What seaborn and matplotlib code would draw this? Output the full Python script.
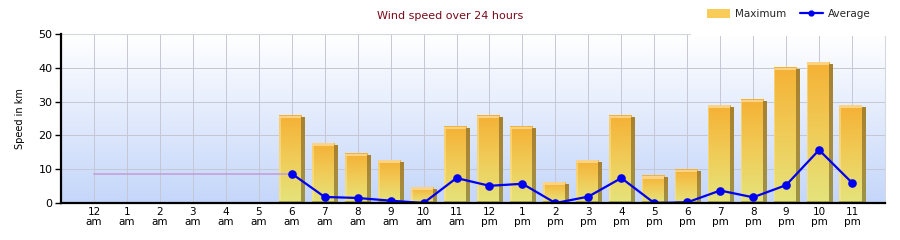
import numpy as np
import pandas as pd
import matplotlib
matplotlib.use("Agg")
import matplotlib.pyplot as plt
import seaborn as sns
from matplotlib.patches import Rectangle, Patch
from matplotlib.lines import Line2D
from matplotlib.colors import LinearSegmentedColormap

# ---- data ----
hours = ["12\nam", "1\nam", "2\nam", "3\nam", "4\nam", "5\nam", "6\nam", "7\nam",
         "8\nam", "9\nam", "10\nam", "11\nam", "12\npm", "1\npm", "2\npm", "3\npm",
         "4\npm", "5\npm", "6\npm", "7\npm", "8\npm", "9\npm", "10\npm", "11\npm"]
maximum = [np.nan, np.nan, np.nan, np.nan, np.nan, np.nan,
           25.8, 17.7, 14.6, 12.7, 4.6, 22.6, 25.8, 22.6, 6.2, 12.7,
           25.8, 8.0, 9.9, 29.0, 30.6, 40.0, 41.7, 29.0]
average = [np.nan, np.nan, np.nan, np.nan, np.nan, np.nan,
           8.7, 1.8, 1.5, 0.7, 0.0, 7.4, 5.1, 5.7, 0.0, 1.9,
           7.4, 0.0, 0.2, 3.7, 1.7, 5.3, 15.7, 6.0]
empty_avg = [8.7, 8.7, 8.7, 8.7, 8.7, 8.7, 8.7] + [np.nan] * 17
y_ticks = [0, 10, 20, 30, 40, 50]

df = pd.DataFrame({"hour": hours, "pos": np.arange(len(hours)),
                   "maximum": maximum, "average": average, "empty": empty_avg})

sns.set_theme(style="white")
plt.rcParams["font.family"] = ["DejaVu Sans"]

fig = plt.figure(figsize=(9, 2.4), dpi=100)
ax = fig.add_axes([0.0678, 0.154, 0.9155, 0.704])

# background gradient
bg_cmap = LinearSegmentedColormap.from_list("bg", ["#c4d6fa", "#ffffff"])
ax.imshow(np.linspace(0, 1, 256).reshape(-1, 1)[::-1], cmap=bg_cmap,
          extent=[0, 1, 0, 1], transform=ax.transAxes, aspect="auto",
          zorder=-2, interpolation="bicubic")
ax.set_facecolor("none")

sns.barplot(data=df, x="hour", y="maximum", order=hours, color="#f5b335",
            width=0.76, ax=ax, zorder=2)

front_cmap = LinearSegmentedColormap.from_list("front", ["#e4e47c", "#f0cc58", "#f5b135"])
side_cmap = LinearSegmentedColormap.from_list("side", ["#9c9448", "#a88a3c", "#a8822e"])
grad = np.linspace(0, 1, 256).reshape(-1, 1)[::-1]
for p in list(ax.patches):
    h = p.get_height()
    if not np.isfinite(h) or h <= 0:
        continue
    x0, w = p.get_x(), p.get_width()
    p.set_visible(False)
    side = w * 0.12
    fx1 = x0 + w - side
    ax.imshow(grad, cmap=front_cmap, extent=[x0, fx1, 0, h], aspect="auto",
              zorder=2, interpolation="bicubic")
    ax.imshow(grad, cmap=side_cmap, extent=[fx1, x0 + w, 0, h - 0.6],
              aspect="auto", zorder=2, interpolation="bicubic")
    # light left bevel
    ax.add_patch(Rectangle((x0, 0), w * 0.07, h, facecolor="#fbe49a",
                           alpha=0.55, edgecolor="none", zorder=2.1))
    # top bevel
    ax.add_patch(Rectangle((x0, h - 0.75), fx1 - x0, 0.75, facecolor="#fcd384",
                           edgecolor="none", zorder=2.2))
    # bottom dark strip
    ax.add_patch(Rectangle((x0, 0), fx1 - x0, 0.7, facecolor="#a6a04c",
                           alpha=0.8, edgecolor="none", zorder=2.2))

sns.lineplot(data=df, x="pos", y="empty", color="#c4a0d8", linewidth=1.4,
             alpha=0.85, ax=ax, zorder=3)
sns.lineplot(data=df, x="pos", y="average", color="#0000f0", linewidth=1.6,
             marker="o", markersize=6.2, markeredgewidth=0, ax=ax, zorder=4)

ax.set_xlim(-1, 24)
ax.set_ylim(0, 50)
ax.set_yticks(y_ticks)
ax.set_xticks(np.arange(len(hours)))
ax.set_xticklabels(hours, fontsize=7.5, linespacing=1.0, color="#000000")
ax.set_yticklabels([str(v) for v in y_ticks], fontsize=8, color="#000000")
ax.set_xlabel("")
ax.set_ylabel("Speed in km", fontsize=7, color="#000000", labelpad=10)

ax.grid(True, color="#c6c7d4", linewidth=0.7)
ax.set_axisbelow(True)
ax.tick_params(axis="y", length=4, width=1, color="#000000", pad=2, left=True)
ax.tick_params(axis="x", length=0, pad=3)
for s in ["top", "right"]:
    ax.spines[s].set_color("#d6d8e0")
    ax.spines[s].set_linewidth(0.8)
for s in ["left", "bottom"]:
    ax.spines[s].set_color("#000000")
    ax.spines[s].set_linewidth(1.6)
ax.spines["left"].set_zorder(5)
ax.spines["bottom"].set_zorder(5)

fig.text(0.5, 0.935, "Wind speed over 24 hours", ha="center", va="center",
         fontsize=8, color="#7a0a1a")

# white box behind legend covering top-right of plot
fig.patches.append(Rectangle((0.768, 0.85), 0.232, 0.15, transform=fig.transFigure,
                             facecolor="white", edgecolor="none", zorder=10))
handles = [Patch(facecolor="#f9cb58", edgecolor="none"),
           Line2D([0], [0], color="#0000f0", linewidth=1.6, marker="o", markersize=3.5)]
leg = fig.legend(handles, ["Maximum", "Average"], loc="upper right",
                 bbox_to_anchor=(0.978, 1.0), ncol=2, frameon=False, fontsize=7.5,
                 handlelength=2.2, handleheight=0.9, columnspacing=1.3,
                 handletextpad=0.5)
leg.set_zorder(11)

fig.savefig("out.png", dpi=100)
